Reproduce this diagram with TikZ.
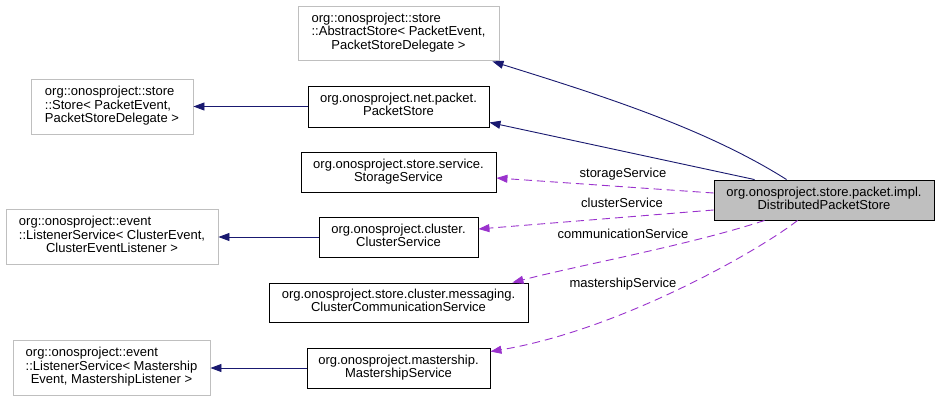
\documentclass[tikz,border=0pt]{standalone}
\usepackage{fontspec}
\setmainfont{Liberation Sans}
\usetikzlibrary{arrows.meta,calc}
\definecolor{inhblue}{HTML}{191970}
\definecolor{usepurple}{HTML}{9A32CD}
\definecolor{boxgray}{HTML}{BFBFBF}
\newcommand\dgfont{\fontsize{13}{13.2}\selectfont}
\newcommand\lc[1]{\multicolumn{1}{@{}c@{}}{#1}}
\tikzset{
  box/.style={draw=black, line width=0.9pt, inner sep=0pt, font=\dgfont, anchor=center},
  gbox/.style={box, draw=boxgray},
  hbox/.style={box, fill=boxgray},
  inh/.style={draw=inhblue, line width=0.9pt, -{Triangle[length=11pt,width=8pt]}},
  usedep/.style={draw=usepurple, line width=0.9pt, dash pattern=on 8pt off 5pt, -{Triangle[length=11pt,width=8pt]}},
  lab/.style={font=\dgfont, inner sep=0pt, text=black}
}
\begin{document}
\begin{tikzpicture}[x=1pt,y=-1pt]
\fill[white] (0,0) rectangle (939,401);
\useasboundingbox (0,0) rectangle (939,401);

\node[gbox, minimum width=201pt, minimum height=54pt] (AS) at (398.5,33)
  {\begin{tabular}{@{}l@{}}org::onosproject::store\\::AbstractStore< PacketEvent,\\\lc{PacketStoreDelegate >}\end{tabular}};
\node[gbox, minimum width=162pt, minimum height=55pt] (ST) at (112,106.5)
  {\begin{tabular}{@{}l@{}}org::onosproject::store\\::Store< PacketEvent,\\\lc{PacketStoreDelegate >}\end{tabular}};
\node[box, minimum width=181pt, minimum height=41pt] (PS) at (398.5,106.5)
  {\begin{tabular}{@{}c@{}}org.onosproject.net.packet.\\PacketStore\end{tabular}};
\node[box, minimum width=195pt, minimum height=40pt] (SS) at (398.5,172)
  {\begin{tabular}{@{}c@{}}org.onosproject.store.service.\\StorageService\end{tabular}};
\node[gbox, minimum width=212pt, minimum height=55pt] (LC) at (112,236.5)
  {\begin{tabular}{@{}l@{}}org::onosproject::event\\::ListenerService< ClusterEvent,\\\lc{ClusterEventListener >}\end{tabular}};
\node[box, minimum width=159pt, minimum height=40pt] (CS) at (398.5,237)
  {\begin{tabular}{@{}c@{}}org.onosproject.cluster.\\ClusterService\end{tabular}};
\node[box, minimum width=259pt, minimum height=39pt] (CC) at (398.5,302.5)
  {\begin{tabular}{@{}c@{}}org.onosproject.store.cluster.messaging.\\ClusterCommunicationService\end{tabular}};
\node[gbox, minimum width=197pt, minimum height=55pt] (LM) at (111.5,367.5)
  {\begin{tabular}{@{}l@{}}org::onosproject::event\\::ListenerService< Mastership\\\lc{Event, MastershipListener >}\end{tabular}};
\node[box, minimum width=183pt, minimum height=40pt] (MS) at (398.5,368)
  {\begin{tabular}{@{}c@{}}org.onosproject.mastership.\\MastershipService\end{tabular}};
\node[hbox, minimum width=220pt, minimum height=40pt] (DPS) at (824,200)
  {\begin{tabular}{@{}c@{}}org.onosproject.store.packet.impl.\\DistributedPacketStore\end{tabular}};

% inheritance
\draw[inh] ($(DPS.north west)+(73,0)$) .. controls (705,128) and (600,95) .. ($(AS.south east)+(-7,1)$);
\draw[inh] ($(DPS.north west)+(41,0)$) -- ($(PS.south east)+(0,-5)$);
\draw[inh] (PS.west) -- (PS.west -| ST.east);
\draw[inh] (CS.west) -- (CS.west -| LC.east);
\draw[inh] (MS.west) -- (MS.west -| LM.east);

% usage
\draw[usedep] ($(DPS.west)+(0,-7)$) -- ($(SS.east)+(0,6)$);
\draw[usedep] ($(DPS.west)+(0,10)$) -- ($(CS.east)+(0,-8)$);
\draw[usedep] ($(DPS.south west)+(51,0)$) .. controls (690,245) and (580,265) .. ($(CC.north east)+(-16,0)$);
\draw[usedep] ($(DPS.south west)+(84,0)$) .. controls (760,250) and (620,330) .. ($(MS.north east)+(0,4)$);

\node[lab] (l1) at (623,174) {storageService};
\node[lab] (l2) at (622,203) {clusterService};
\node[lab] (l3) at (623,234) {communicationService};
\node[lab] (l4) at (623,284) {mastershipService};
\end{tikzpicture}
\end{document}
